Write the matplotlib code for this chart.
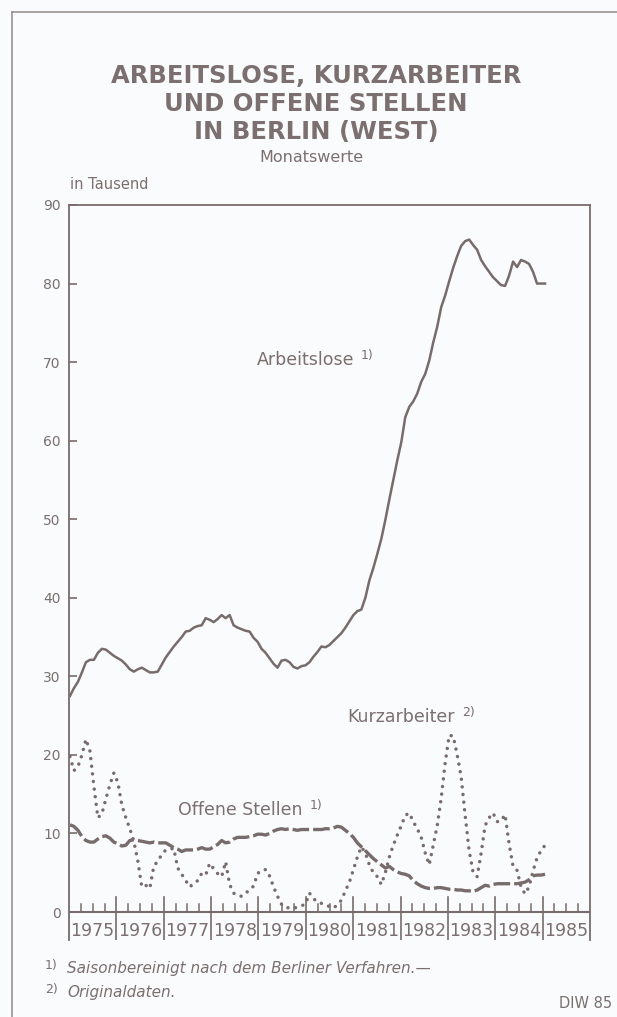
import matplotlib
matplotlib.use('Agg')
import matplotlib.pyplot as plt
from matplotlib import font_manager
import numpy as np

# ---- data (thousands, monthly Jan 1975 - Dec 1984) ----
years = list(range(1975, 1986))
year_labels = [str(y) for y in years]
y_ticks = [0, 10, 20, 30, 40, 50, 60, 70, 80, 90]

arbeitslose = [
    27.5, 28.5, 29.3, 30.5, 31.8, 32.1, 32.1, 33.0, 33.5, 33.4, 33.0, 32.6,
    32.3, 32.0, 31.5, 30.9, 30.6, 30.9, 31.1, 30.8, 30.5, 30.5, 30.6, 31.5,
    32.4, 33.1, 33.8, 34.4, 35.0, 35.7, 35.8, 36.2, 36.4, 36.5, 37.4, 37.2,
    36.9, 37.3, 37.8, 37.4, 37.8, 36.5, 36.2, 36.0, 35.8, 35.7, 34.9, 34.4,
    33.5, 33.0, 32.3, 31.6, 31.1, 32.0, 32.1, 31.8, 31.2, 31.0, 31.3, 31.4,
    31.8, 32.5, 33.1, 33.8, 33.7, 34.0, 34.5, 35.0, 35.5, 36.2, 37.0, 37.8,
    38.3, 38.5, 40.0, 42.2, 43.8, 45.6, 47.5, 49.9, 52.5, 55.0, 57.5, 59.8,
    63.0, 64.3, 65.0, 66.0, 67.5, 68.5, 70.2, 72.5, 74.5, 77.0, 78.5, 80.3,
    82.0, 83.5, 84.8, 85.4, 85.6, 84.9, 84.3, 83.0, 82.2, 81.5, 80.8, 80.3,
    79.8, 79.7, 81.0, 82.8, 82.1, 83.0, 82.8, 82.5, 81.5, 80.0, 80.0, 80.0,
]

kurzarbeiter = [
    19.8, 18.0, 18.5, 20.0, 22.0, 20.5, 16.0, 12.0, 12.5, 14.4, 16.2, 17.7,
    16.5, 13.6, 12.0, 10.6, 9.0, 6.5, 3.2, 3.4, 3.0, 5.8, 6.5, 7.3,
    7.9, 8.0, 8.1, 5.6, 4.8, 4.0, 3.2, 3.6, 4.0, 4.9, 4.7, 6.2,
    5.5, 4.9, 4.5, 6.4, 3.5, 2.4, 2.1, 2.0, 2.4, 2.8, 3.3, 4.9,
    5.3, 5.4, 4.6, 3.2, 2.0, 1.0, 0.6, 0.5, 0.5, 0.6, 0.8, 1.0,
    2.4, 1.7, 1.3, 1.1, 0.9, 0.7, 0.5, 0.9, 1.5, 2.7, 3.8, 5.4,
    7.0, 8.3, 7.5, 6.0, 5.0, 4.5, 3.5, 5.0, 7.0, 8.5, 9.8, 11.0,
    12.3, 12.6, 11.5, 10.6, 9.5, 7.5, 6.0, 8.5, 11.0, 14.5, 19.0, 22.5,
    22.4, 20.0, 17.2, 12.3, 7.8, 5.0, 4.5, 7.5, 11.0, 12.0, 12.6, 11.5,
    11.6, 12.4, 8.7, 5.8, 5.3, 3.2, 2.3, 3.2, 5.2, 6.9, 7.8, 8.5,
]

offene_stellen = [
    11.1, 10.9, 10.4, 9.6, 9.1, 8.9, 8.9, 9.3, 9.6, 9.7, 9.4, 8.9,
    8.7, 8.4, 8.5, 9.1, 9.2, 9.1, 9.0, 8.9, 8.8, 8.9, 8.8, 8.8,
    8.8, 8.5, 8.2, 8.0, 7.7, 7.9, 7.9, 7.9, 8.0, 8.2, 8.0, 8.0,
    8.3, 8.6, 9.1, 8.8, 8.9, 9.3, 9.5, 9.5, 9.5, 9.6, 9.7, 9.9,
    9.9, 9.8, 10.0, 10.3, 10.5, 10.6, 10.5, 10.6, 10.5, 10.4, 10.5, 10.5,
    10.5, 10.5, 10.5, 10.5, 10.6, 10.6, 10.7, 10.9, 10.8, 10.4, 10.0, 9.5,
    8.8, 8.3, 7.8, 7.3, 6.8, 6.4, 6.0, 5.6, 5.8, 5.4, 5.1, 4.9,
    4.8, 4.6, 4.0, 3.6, 3.3, 3.1, 3.0, 3.0, 3.1, 3.1, 3.0, 2.9,
    2.9, 2.8, 2.8, 2.7, 2.7, 2.6, 2.8, 3.1, 3.4, 3.3, 3.5, 3.6,
    3.6, 3.6, 3.6, 3.6, 3.6, 3.7, 3.8, 4.1, 4.6, 4.7, 4.7, 4.8,
]

# month positions on the year axis
months = np.linspace(1975.02, 1985.05, len(arbeitslose))

# ---- style ----
bg = '#f9fbfc'
ink = '#7b6f6f'
line_col = '#786b6b'

# a condensed face for the numbers if one is installed
installed = {f.name for f in font_manager.fontManager.ttflist}
if 'Liberation Sans Narrow' in installed:
    num_font = dict(family='Liberation Sans Narrow')
    year_size = 15
elif 'DejaVu Sans Condensed' in installed:
    num_font = dict(family='DejaVu Sans Condensed')
    year_size = 13
else:
    num_font = dict(family='DejaVu Sans')
    year_size = 12.5

W, H = 617, 1017
fig = plt.figure(figsize=(W / 100, H / 100), dpi=100)
fig.patch.set_facecolor(bg)


def fx(px):
    return px / W


def fy(py):
    return 1 - py / H


# outer frame (top and left edge visible)
fig.add_artist(plt.Line2D([fx(12), fx(617)], [fy(12), fy(12)], color='#9a9090', lw=1.2))
fig.add_artist(plt.Line2D([fx(12), fx(12)], [fy(12), fy(1017)], color='#9a9090', lw=1.2))

# titles
title_lines = ['ARBEITSLOSE, KURZARBEITER', 'UND OFFENE STELLEN', 'IN BERLIN (WEST)']
for i, t in enumerate(title_lines):
    fig.text(fx(316), fy(76 + 28 * i), t, ha='center', va='center', fontsize=17.5,
             fontweight='bold', color=ink, family='DejaVu Sans')
fig.text(fx(311), fy(158), 'Monatswerte', ha='center', va='center', fontsize=11.5, color=ink)
fig.text(fx(70), fy(185), 'in Tausend', ha='left', va='center', fontsize=10.5, color=ink)

# ---- axes ----
y_bottom = -28 / 7.856
ax = fig.add_axes([fx(69), fy(940), fx(590) - fx(69), fy(205) - fy(940)])
ax.set_facecolor(bg)
ax.set_xlim(1975, 1986)
ax.set_ylim(y_bottom, 90)

for side in ['left', 'right', 'top']:
    ax.spines[side].set_color(line_col)
    ax.spines[side].set_linewidth(1.3)
ax.spines['bottom'].set_visible(False)

ax.set_yticks(y_ticks)
ax.set_yticklabels([str(v) for v in y_ticks], fontsize=10, color=ink, **num_font)
ax.tick_params(axis='y', direction='in', length=6, width=1.2, color=line_col, pad=6)
ax.set_xticks([])

# zero line, year separators and quarter ticks
ax.axhline(0, color=line_col, lw=1.5)
for yr in years[1:]:
    ax.plot([yr, yr], [y_bottom, 1.9], color=line_col, lw=1.2)
for yr, lab in zip(years, year_labels):
    for q in (0.25, 0.5, 0.75):
        ax.plot([yr + q, yr + q], [0, 1.0], color=line_col, lw=1.1)
    ax.text(yr + 0.5, -2.45, lab, ha='center', va='center', fontsize=year_size,
            color=ink, **num_font)

# series
ax.plot(months, arbeitslose, color=line_col, lw=1.8, solid_joinstyle='round')
ax.plot(months, offene_stellen, color=line_col, lw=2.4, linestyle=(0, (5, 1.2)),
        dash_capstyle='butt')
ax.plot(months, kurzarbeiter, color=line_col, lw=2.5, linestyle=(0, (0.01, 2.2)),
        dash_capstyle='round')

# series labels
t1 = ax.text(1978.96, 70.3, 'Arbeitslose', ha='left', va='center', fontsize=12.5, color=ink)
ax.annotate('1)', xy=(1, 0.75), xycoords=t1, xytext=(5, 0), textcoords='offset points',
            ha='left', va='center', fontsize=9, color=ink)
t2 = ax.text(1980.88, 24.8, 'Kurzarbeiter', ha='left', va='center', fontsize=12.5, color=ink)
ax.annotate('2)', xy=(1, 0.75), xycoords=t2, xytext=(5, 0), textcoords='offset points',
            ha='left', va='center', fontsize=9, color=ink)
t3 = ax.text(1977.30, 13.0, 'Offene Stellen', ha='left', va='center', fontsize=12.5, color=ink)
ax.annotate('1)', xy=(1, 0.75), xycoords=t3, xytext=(5, 0), textcoords='offset points',
            ha='left', va='center', fontsize=9, color=ink)

# footnotes
fig.text(fx(45), fy(966), '1)', ha='left', va='center', fontsize=9, color=ink)
fig.text(fx(67), fy(968), 'Saisonbereinigt nach dem Berliner Verfahren.\u2014', ha='left',
         va='center', fontsize=11, style='italic', color=ink)
fig.text(fx(45), fy(990), '2)', ha='left', va='center', fontsize=9, color=ink)
fig.text(fx(67), fy(992), 'Originaldaten.', ha='left', va='center', fontsize=11,
         style='italic', color=ink)
fig.text(fx(612), fy(1003), 'DIW 85', ha='right', va='center', fontsize=10.5, color=ink)

fig.savefig('out.png', dpi=100, facecolor=bg)
